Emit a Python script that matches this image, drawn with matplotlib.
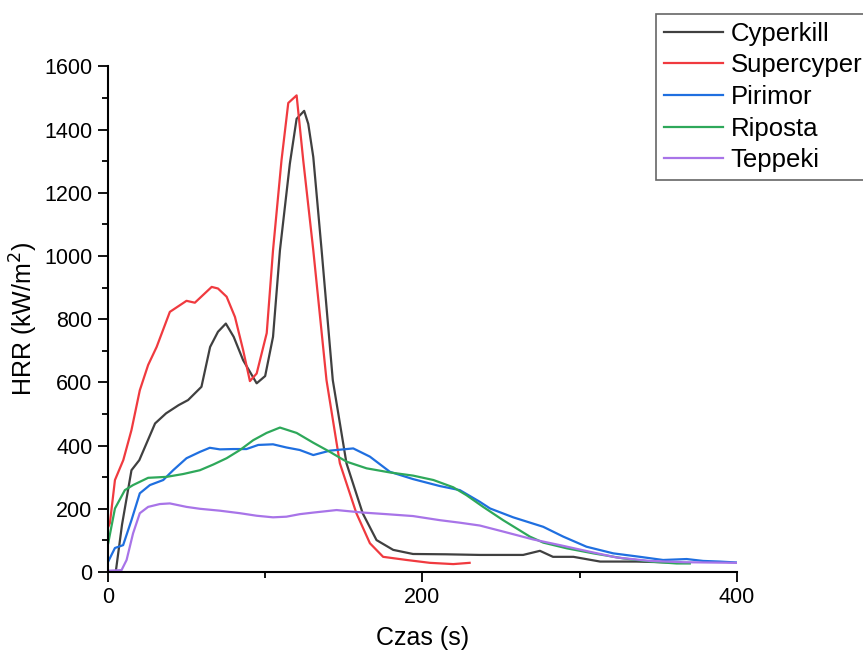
import numpy as np
import matplotlib
matplotlib.use("Agg")
import matplotlib.pyplot as plt
from matplotlib.ticker import MultipleLocator

plt.rcParams['font.family'] = ['Liberation Sans', 'DejaVu Sans']

# Cyperkill
t_cyp = [5, 9, 15, 20, 30, 37, 45, 51, 59.5, 65, 70, 75, 80, 86, 94.6, 100, 105, 109.4, 115.7,
         120, 124.8, 127.4, 130.6, 135.9, 143, 151.7, 162, 170.8, 181.4, 194, 215, 236.5, 264,
         274.7, 283, 296, 313, 336, 360]
v_cyp = [0, 150, 322, 354, 470, 502, 528, 544, 586, 712, 760, 786, 744, 670, 597, 620, 744, 1018,
         1292, 1434, 1459, 1418, 1313, 1018, 607, 344, 186, 101, 70, 57, 56, 54, 54,
         67, 48, 48, 33, 33, 30]

# Supercyper
t_sup = [0, 1.3, 4.5, 9.8, 15, 20.3, 25.6, 31, 39.4, 50, 55.3, 66, 70, 75.5, 80.8, 86, 90.3, 94.6,
         101, 105, 110.4, 114.7, 120, 124.2, 130.6, 139, 147.5, 158, 166.6, 175, 190, 204.7,
         219.6, 230]
v_sup = [140, 155, 291, 354, 449, 575, 655, 712, 823, 858, 852, 902, 897, 871, 807, 702, 604, 628,
         756, 1018, 1303, 1484, 1508, 1303, 1018, 607, 344, 186, 91, 48, 38, 29,
         25, 29]

# Pirimor
t_pir = [0.2, 4.5, 9.7, 15, 20.3, 26.7, 35.2, 41.5, 50, 58.5, 64.8, 71.2, 79.7, 88.1, 95.6, 105,
         113.5, 122, 130.6, 141.2, 156, 166.6, 179.3, 194, 211, 223.8, 236.5, 243, 257.7, 276.8,
         289.5, 304.3, 321.3, 338.3, 353, 368, 378.5, 389, 400]
v_pir = [33, 76, 85, 164, 249, 275, 291, 322, 360, 380, 393, 388, 389, 389, 402, 404,
         394, 386, 370, 384, 391, 365, 317, 294, 272, 259, 222, 201, 173, 143,
         112, 80, 59, 48, 38, 41, 35, 33, 30]

# Riposta
t_rip = [0.2, 4.5, 10.8, 16, 25.6, 37.3, 47.9, 58.5, 67, 75.5, 84, 92.4, 100.9, 109.4, 120, 130.6,
         141.2, 151.8, 164.5, 179.3, 194, 207, 219.6, 228, 238.6, 251.3, 268.3, 276.8, 291.7,
         308.6, 327.7, 344.7, 361.6, 370]
v_rip = [91, 201, 259, 275, 298, 301, 310, 322, 340, 360, 386, 417, 440, 457, 440, 409,
         380, 349, 328, 315, 305, 291, 268, 243, 206, 164, 112, 93, 75,
         59, 43, 33, 27, 27]

# Teppeki
t_tep = [0.2, 8.7, 11.9, 16, 20.3, 25.6, 33, 39.4, 50, 58.5, 71.2, 84, 94.6, 105, 113.5, 122,
         130.6, 145.4, 162.3, 177.2, 194, 211, 223.8, 236.5, 251.3, 270.4, 287.4, 306.5, 323.4,
         344.7, 365.8, 400]
v_tep = [4, 6, 38, 122, 186, 206, 215, 217, 206, 200, 194, 186, 178, 173, 175, 183,
         188, 196, 188, 183, 177, 164, 156, 147, 128, 103, 85, 64, 46,
         35, 31, 29]

series = [
    ("Cyperkill", t_cyp, v_cyp, "#404040"),
    ("Supercyper", t_sup, v_sup, "#f03a3f"),
    ("Pirimor", t_pir, v_pir, "#1f6fe0"),
    ("Riposta", t_rip, v_rip, "#2ea85a"),
    ("Teppeki", t_tep, v_tep, "#a874e8"),
]

fig = plt.figure(figsize=(8.63, 6.5), dpi=100)
ax = fig.add_axes([0.125, 0.12, 0.729, 0.778])

for name, t, v, c in series:
    ax.plot(t, v, color=c, lw=1.6, label=name)

ax.set_xlim(0, 400)
ax.set_ylim(0, 1600)
ax.xaxis.set_major_locator(MultipleLocator(200))
ax.xaxis.set_minor_locator(MultipleLocator(100))
ax.yaxis.set_major_locator(MultipleLocator(200))
ax.yaxis.set_minor_locator(MultipleLocator(100))
ax.tick_params(which='major', direction='out', length=7, width=1.3, labelsize=15.5, pad=4)
ax.tick_params(which='minor', direction='out', length=4, width=1.3)
for s in ['top', 'right']:
    ax.spines[s].set_visible(False)
for s in ['left', 'bottom']:
    ax.spines[s].set_linewidth(1.5)

ax.set_xlabel("Czas (s)", fontsize=18, labelpad=13)
ax.set_ylabel("HRR (kW/m$^2$)", fontsize=18, labelpad=3)

leg = fig.legend(loc='lower left', bbox_to_anchor=(0.760, 0.723), bbox_transform=fig.transFigure,
                 fontsize=18.5, handlelength=2.3, frameon=True, fancybox=False,
                 borderaxespad=0, borderpad=0.3, labelspacing=0.3, handletextpad=0.3)
leg.get_frame().set_edgecolor('#404040')
leg.get_frame().set_linewidth(1.2)

fig.savefig("out.png", dpi=100)
